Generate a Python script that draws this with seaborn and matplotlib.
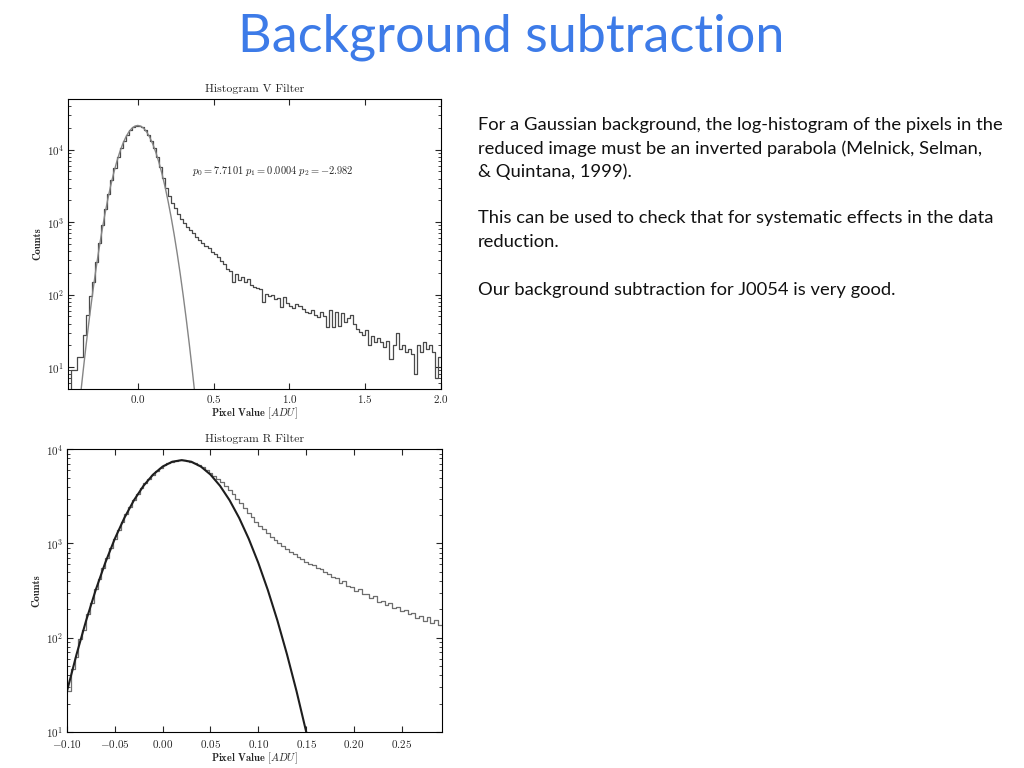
import numpy as np
import pandas as pd
import matplotlib
matplotlib.use('Agg')
import matplotlib.pyplot as plt
import seaborn as sns

# V filter: counts per 0.02 ADU bin, starting at -0.46
v_start, v_width = -0.46, 0.02
v_counts = [
    1, 9, 9, 14, 14, 28, 52, 95, 150, 280, 520, 910, 1540, 2480, 3820, 5600,
    7810, 10420, 13300, 16100, 18600, 20450, 21400,
    21450, 20430, 18620, 16150, 13350, 10500, 7900, 5750, 4100, 3000,
    2300, 1850, 1550, 1300, 1120, 980, 870, 780, 700, 630,
    570, 520, 470, 440, 390, 360, 330, 290, 265, 225,
    210, 150, 190, 160, 178, 150, 162, 138, 128, 122,
    118, 80, 102, 95, 100, 88, 90, 68, 92, 76,
    70, 66, 74, 70, 63, 58, 56, 61, 52, 49,
    57, 50, 36, 62, 36, 58, 37, 55, 42, 48,
    52, 40, 34, 31, 28, 33, 20, 27, 22, 25,
    22, 19, 23, 13, 20, 30, 18, 20, 16, 18,
    15, 8, 20, 16, 22, 18, 20, 16, 7, 14,
]
# V filter fitted curve, x from -0.40 to 0.40 in steps of 0.02
v_fit_x = np.round(np.linspace(-0.40, 0.40, 41), 2)
v_fit_y = [
    1.43, 3.66, 8.9, 20.7, 45.7, 96.5, 194, 371, 676, 1176, 1950, 3080,
    4630, 6640, 9075, 11830, 14700, 17400, 19620, 21087, 21600, 21087,
    19620, 17400, 14700, 11830, 9075, 6640, 4630, 3080, 1950, 1176, 676,
    371, 194, 96.5, 45.7, 20.7, 8.9, 3.66, 1.43,
]
v_note = r'$p_0 = 7.7101\ p_1 = 0.0004\ p_2 = -2.982$'

# R filter: counts per 0.004 ADU bin, starting at -0.100
r_start, r_width = -0.100, 0.004
r_counts = [
    27, 47, 62, 98, 122, 180, 236, 326, 415, 556, 700, 902, 1115, 1395,
    1690, 2060, 2430, 2890, 3330, 3850, 4340, 4880, 5380, 5890, 6330,
    6760, 7090, 7380, 7560, 7650, 7660, 7570, 7390, 7120, 6790, 6420,
    6000, 5620, 5240, 4860, 4480, 4100, 3720, 3340, 2980, 2660, 2380,
    2120, 1900, 1710, 1550, 1410, 1290, 1180, 1090, 1010, 940, 870, 810,
    770, 720, 680,
    640, 600, 590, 545, 530, 495, 480, 445, 430, 385, 400, 350, 345, 310,
    330, 290, 292, 262, 275, 240, 246, 222, 232, 205, 212, 190, 198, 178,
    184, 162, 172, 150, 164, 142, 155, 138,
]
# R filter fitted curve, x from -0.10 to 0.16 in steps of 0.01
r_fit_x = np.round(np.linspace(-0.10, 0.16, 27), 2)
r_fit_y = [
    27.0, 66.5, 151.7, 320, 623, 1122, 1868, 2876, 4094, 5388, 6556, 7375,
    7670, 7375, 6556, 5388, 4094, 2876, 1868, 1122, 623, 320, 152, 66.5,
    27.0, 10.1, 3.5,
]

slide_title = 'Background subtraction'
slide_lines = [
    'For a Gaussian background, the log-histogram of the pixels in the',
    'reduced image must be an inverted parabola (Melnick, Selman,',
    '& Quintana, 1999).',
    '',
    'This can be used to check that for systematic effects in the data',
    'reduction.',
    '',
    'Our background subtraction for J0054 is very good.',
]

sns.set_style('ticks')
plt.rcParams['font.family'] = ['cmr10', 'DejaVu Serif']
plt.rcParams['mathtext.fontset'] = 'cm'
plt.rcParams['axes.unicode_minus'] = False
plt.rcParams['axes.formatter.use_mathtext'] = True


def draw_panel(ax, start, width, counts, fit_x, fit_y, title,
               hist_color, fit_color, fit_lw):
    counts = np.asarray(counts, dtype=float)
    edges = start + width * np.arange(len(counts) + 1)
    df = pd.DataFrame({'value': (edges[:-1] + edges[1:]) / 2,
                       'count': counts})
    sns.histplot(data=df, x='value', weights='count', bins=edges.tolist(),
                 element='step', fill=False, color=hist_color,
                 linewidth=0.9, ax=ax)
    ax.set_yscale('log')
    sns.lineplot(x=fit_x, y=fit_y, color=fit_color, linewidth=fit_lw, ax=ax)
    ax.set_title(title, fontsize=8.5, pad=5)
    ax.set_xlabel(r'Pixel Value $[ADU]$', fontsize=7.5, family='cmb10',
                  labelpad=0)
    ax.set_ylabel('Counts', fontsize=7.5, family='cmb10', labelpad=3)
    ax.tick_params(which='both', direction='in', top=True, right=True,
                   labelsize=8, pad=3)
    ax.tick_params(which='major', length=4)
    ax.tick_params(which='minor', length=2)
    for s in ax.spines.values():
        s.set_linewidth(0.8)
        s.set_color('black')


fig = plt.figure(figsize=(10.24, 7.68), dpi=100)
fig.patch.set_facecolor('white')

ax1 = fig.add_axes([0.0664, 0.4935, 0.3643, 0.3776])
draw_panel(ax1, v_start, v_width, v_counts, v_fit_x, v_fit_y,
           'Histogram V Filter', '#4a4a4a', '#858585', 1.0)
ax1.set_xlim(-0.46, 2.0)
ax1.set_ylim(5, 5e4)
ax1.set_xticks([0.0, 0.5, 1.0, 1.5, 2.0])
ax1.xaxis.set_major_formatter(matplotlib.ticker.FuncFormatter(
    lambda v, p: r'$%.1f$' % v))
ax1.text(0.36, 5000, v_note, fontsize=7.5, va='center', ha='left')

ax2 = fig.add_axes([0.0654, 0.047, 0.3662, 0.368])
draw_panel(ax2, r_start, r_width, r_counts, r_fit_x, r_fit_y,
           'Histogram R Filter', '#6e6e6e', '#1e1e1e', 1.5)
ax2.set_xlim(-0.10, 0.292)
ax2.set_ylim(10, 1e4)
ax2.set_xticks([-0.10, -0.05, 0.0, 0.05, 0.10, 0.15, 0.20, 0.25])
ax2.xaxis.set_major_formatter(matplotlib.ticker.FuncFormatter(
    lambda v, p: r'$%.2f$' % v))
ax2.tick_params(axis='x', pad=4.5)

fig.text(0.499, 0.951, slide_title, fontsize=37.5, family='Lato',
         color='#3d7be8', ha='center', va='center')

line_y = [125, 148.5, 172, 195, 218.5, 242, 265, 289.5]
for txt, y in zip(slide_lines, line_y):
    if txt:
        fig.text(478 / 1024, 1 - y / 768, txt, fontsize=13.2, family='Lato',
                 color='#111111', ha='left', va='center')

fig.savefig('out.png', dpi=100, facecolor='white')
